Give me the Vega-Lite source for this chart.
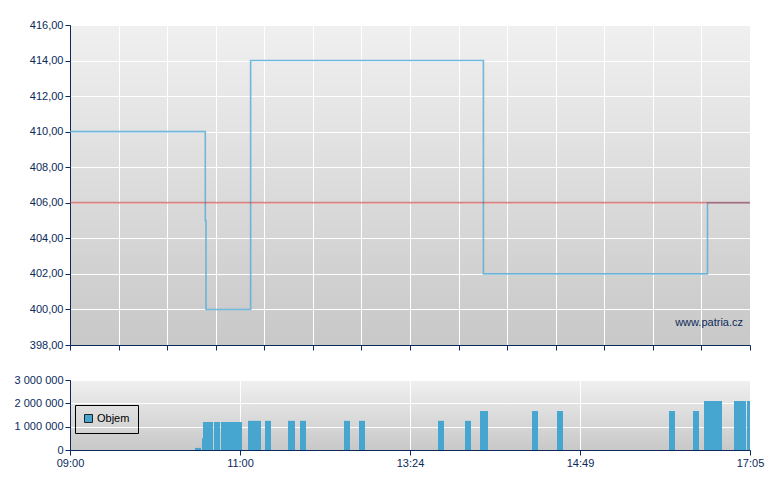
{
  "$schema": "https://vega.github.io/schema/vega-lite/v6.json",
  "background": "#ffffff",
  "padding": {"left": 14, "top": 19, "right": 5, "bottom": 5},
  "datasets": {
    "price": [
      {"minute": 0, "price": 410},
      {"minute": 95.5, "price": 405},
      {"minute": 96, "price": 400},
      {"minute": 129, "price": 414},
      {"minute": 300.7, "price": 402},
      {"minute": 451, "price": 406},
      {"minute": 485, "price": 406}
    ],
    "volume": [
      {"start": 88.23, "end": 92.47, "volume": 90000},
      {"start": 93.18, "end": 93.88, "volume": 500000},
      {"start": 93.88, "end": 100.93, "volume": 1200000},
      {"start": 101.65, "end": 105.88, "volume": 1200000},
      {"start": 106.58, "end": 121.7, "volume": 1200000},
      {"start": 126.78, "end": 137.78, "volume": 1250000},
      {"start": 141.18, "end": 146.27, "volume": 1250000},
      {"start": 160.67, "end": 166.58, "volume": 1250000},
      {"start": 170.82, "end": 175.92, "volume": 1250000},
      {"start": 208.08, "end": 213.18, "volume": 1250000},
      {"start": 220.8, "end": 225.88, "volume": 1250000},
      {"start": 278, "end": 281, "volume": 1250000},
      {"start": 291.5, "end": 294.5, "volume": 1250000},
      {"start": 299, "end": 303, "volume": 1670000},
      {"start": 325, "end": 328, "volume": 1670000},
      {"start": 337.5, "end": 340.5, "volume": 1670000},
      {"start": 420.2, "end": 425, "volume": 1670000},
      {"start": 439.4, "end": 444.2, "volume": 1670000},
      {"start": 448.2, "end": 462.6, "volume": 2100000},
      {"start": 472.2, "end": 481.8, "volume": 2100000},
      {"start": 482.6, "end": 485, "volume": 2100000}
    ]
  },
  "spacing": 35,
  "bounds": "flush",
  "vconcat": [
    {
      "width": 680,
      "height": 320,
      "layer": [
        {
          "data": {"name": "price"},
          "mark": {"type": "line", "interpolate": "step-after", "color": "#5aaed8", "strokeWidth": 1.6, "opacity": 0.85},
          "encoding": {
            "x": {
              "field": "minute", "type": "quantitative",
              "scale": {"nice": false, "zero": false, "domain": [0, 120, 264, 349, 485], "range": [0, 170, 340, 510, 680]},
              "axis": {
                "labels": false, "grid": true, "ticks": true,
                "values": [0, 34.29, 68.57, 102.86, 140.57, 181.71, 222.86, 264, 288.29, 312.57, 336.86, 368.43, 407.29, 446.14, 485]
              }
            },
            "y": {
              "field": "price", "type": "quantitative",
              "scale": {"domain": [398, 416], "nice": false, "zero": false},
              "axis": {"values": [398, 400, 402, 404, 406, 408, 410, 412, 414, 416], "format": ".2f", "grid": true, "labelOverlap": false}
            }
          }
        },
        {
          "data": {"values": [{"close": 406}]},
          "mark": {"type": "rule", "color": "#c83232", "strokeWidth": 2, "opacity": 0.5},
          "encoding": {"y": {"field": "close", "type": "quantitative",
            "axis": {"values": [398, 400, 402, 404, 406, 408, 410, 412, 414, 416], "format": ".2f", "grid": true, "labelOverlap": false}}}
        },
        {
          "data": {"values": [{"label": "www.patria.cz"}]},
          "mark": {"type": "text", "align": "right", "baseline": "alphabetic", "dx": -7, "dy": -19, "font": "Liberation Sans", "fontSize": 11, "color": "#0b2a5b"},
          "encoding": {
            "x": {"datum": 485, "type": "quantitative",
              "axis": {"labels": false, "grid": true, "ticks": true,
                "values": [0, 34.29, 68.57, 102.86, 140.57, 181.71, 222.86, 264, 288.29, 312.57, 336.86, 368.43, 407.29, 446.14, 485]}},
            "y": {"datum": 398, "type": "quantitative",
              "axis": {"values": [398, 400, 402, 404, 406, 408, 410, 412, 414, 416], "format": ".2f", "grid": true, "labelOverlap": false}},
            "text": {"field": "label", "type": "nominal"}
          }
        }
      ]
    },
    {
      "width": 680,
      "height": 70,
      "data": {"name": "volume"},
      "mark": {"type": "rect"},
      "encoding": {
        "x": {
          "field": "start", "type": "quantitative",
          "scale": {"nice": false, "zero": false, "domain": [0, 120, 264, 349, 485], "range": [0, 170, 340, 510, 680]},
          "axis": {
            "grid": true,
            "values": [0, 120, 264, 349, 485],
            "labelExpr": "timeFormat(datetime(2024, 0, 2, 9, datum.value), '%H:%M')"
          }
        },
        "x2": {"field": "end"},
        "y": {
          "field": "volume", "type": "quantitative",
          "scale": {"domain": [0, 3000000], "nice": false},
          "axis": {"values": [0, 1000000, 2000000, 3000000], "format": ",.0f", "grid": true}
        },
        "y2": {"datum": 0},
        "color": {
          "datum": "Objem", "type": "nominal",
          "scale": {"range": ["#46a6cf"]},
          "legend": {
            "orient": "none", "legendX": 5, "legendY": 380, "title": null,
            "padding": 8, "labelOffset": 3, "strokeColor": "#000000", "symbolType": "square",
            "symbolSize": 64, "symbolStrokeColor": "#222222", "symbolStrokeWidth": 1,
            "symbolOpacity": 1, "labelColor": "#000000", "labelFont": "Liberation Sans", "labelFontSize": 11
          }
        }
      }
    }
  ],
  "config": {
    "locale": {"number": {"decimal": ",", "thousands": " ", "grouping": [3], "currency": ["", ""]}},
    "view": {
      "stroke": null,
      "fill": {"gradient": "linear", "x1": 0, "y1": 0, "x2": 0, "y2": 1,
        "stops": [{"offset": 0, "color": "#f0f0f0"}, {"offset": 1, "color": "#c8c8c8"}]}
    },
    "axis": {
      "title": null,
      "domainColor": "#0b2a5b", "tickColor": "#0b2a5b", "labelColor": "#0b2a5b",
      "labelFont": "Liberation Sans", "labelFontSize": 11, "tickSize": 5, "labelPadding": 2,
      "gridColor": "#ffffff", "gridOpacity": 1, "gridWidth": 1,
      "labelFlush": false, "labelOverlap": false
    }
  }
}
